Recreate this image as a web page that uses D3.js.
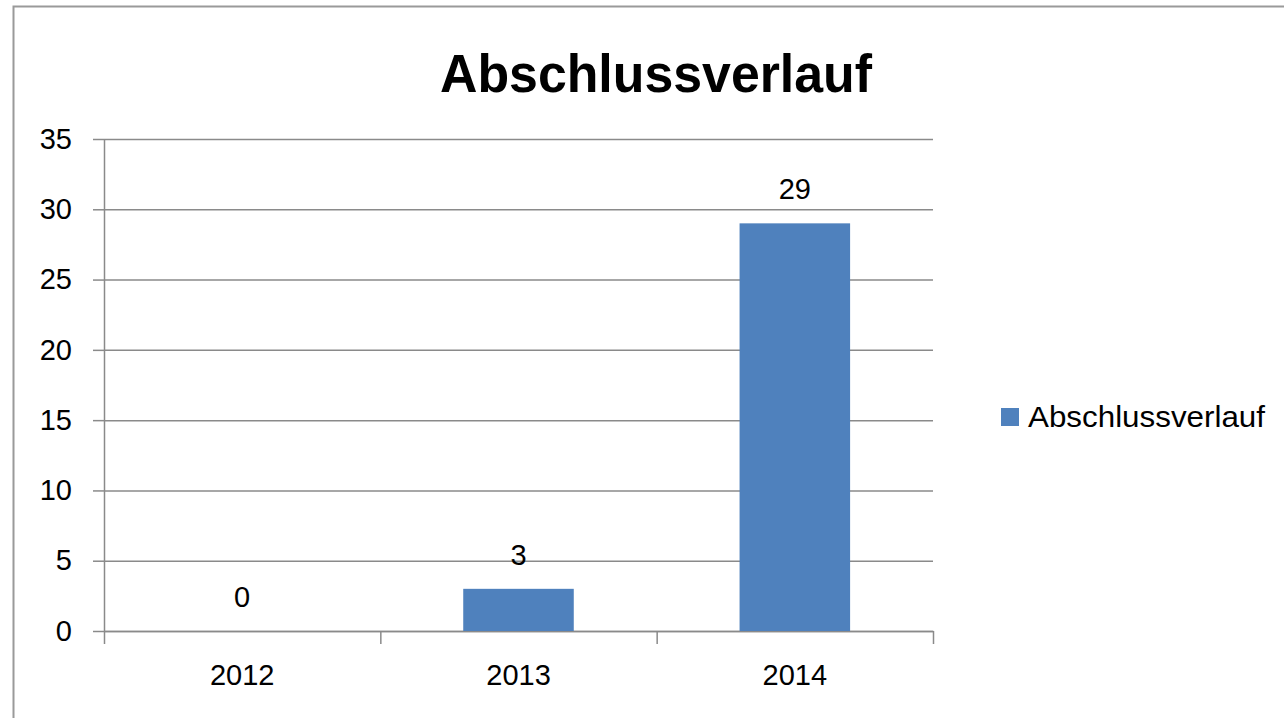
<!DOCTYPE html>
<html>
<head>
<meta charset="utf-8">
<script src="https://cdn.jsdelivr.net/npm/d3@7"></script>
<style>
  html, body { margin: 0; padding: 0; background: #fff; }
  svg { display: block; }
  text { font-family: "Liberation Sans", Arial, sans-serif; fill: #000; }
</style>
</head>
<body>
<svg id="chart" width="1284" height="718"></svg>
<script>
const years = ["2012", "2013", "2014"];
const values = [0, 3, 29];
const yTicks = [0, 5, 10, 15, 20, 25, 30, 35];
const seriesName = "Abschlussverlauf";
const chartTitle = "Abschlussverlauf";

const svg = d3.select("#chart");
const gridColor = "#8a8a8a";
const barColor = "#4f81bd";

const margin = { top: 139, right: 351, bottom: 87, left: 104 };
const width = 1284 - margin.left - margin.right;
const height = 718 - margin.top - margin.bottom;

// outer chart frame (runs past right and bottom edge)
svg.append("rect")
  .attr("x", 13.5).attr("y", 6.5)
  .attr("width", 1300).attr("height", 800)
  .attr("fill", "none")
  .attr("stroke", "#9a9a9a")
  .attr("stroke-width", 2);

svg.append("text")
  .attr("x", 656).attr("y", 92)
  .attr("text-anchor", "middle")
  .attr("font-size", 54)
  .attr("font-weight", "bold")
  .attr("textLength", 432)
  .attr("lengthAdjust", "spacingAndGlyphs")
  .text(chartTitle);

const g = svg.append("g")
  .attr("transform", `translate(${margin.left},${margin.top})`);

const x = d3.scaleBand().domain(years).range([0, width]).padding(0);
const y = d3.scaleLinear().domain([0, 35]).range([height, 0]);

// gridlines
g.append("g")
  .attr("class", "grid")
  .call(d3.axisLeft(y).tickValues(yTicks).tickSize(-width).tickFormat(""))
  .call((s) => s.select(".domain").remove())
  .call((s) => s.selectAll("line").attr("stroke", gridColor).attr("stroke-width", 1.5));

// y axis
g.append("g")
  .call(d3.axisLeft(y).tickValues(yTicks).tickSize(11).tickSizeOuter(0).tickPadding(21))
  .call((s) => s.select(".domain").attr("stroke", gridColor).attr("stroke-width", 1.5))
  .call((s) => s.selectAll("line").attr("stroke", gridColor).attr("stroke-width", 1.5))
  .call((s) => s.selectAll("text")
    .attr("font-size", 29)
    .attr("fill", "#000")
    .style("font-family", "'Liberation Sans', Arial, sans-serif"));

// x axis: tick marks at category boundaries
const boundaries = years.map((d) => x(d)).concat([width]);
const xb = d3.scaleLinear().domain([0, width]).range([0, width]);
g.append("g")
  .attr("transform", `translate(0,${height})`)
  .call(d3.axisBottom(xb).tickValues(boundaries).tickSize(13).tickSizeOuter(0).tickFormat(""))
  .call((s) => s.select(".domain").attr("stroke", gridColor).attr("stroke-width", 1.5))
  .call((s) => s.selectAll("line").attr("stroke", gridColor).attr("stroke-width", 1.5));

// x labels
g.append("g")
  .attr("transform", `translate(0,${height})`)
  .call(d3.axisBottom(x).tickSize(0).tickPadding(33))
  .call((s) => s.select(".domain").remove())
  .call((s) => s.selectAll("text")
    .attr("font-size", 29)
    .attr("fill", "#000")
    .style("font-family", "'Liberation Sans', Arial, sans-serif"));

const data = years.map((d, i) => ({ year: d, value: values[i] }));
const barW = x.bandwidth() * 0.4;

g.selectAll("rect.bar")
  .data(data)
  .join("rect")
  .attr("class", "bar")
  .attr("x", (d) => x(d.year) + (x.bandwidth() - barW) / 2)
  .attr("y", (d) => y(d.value))
  .attr("width", barW)
  .attr("height", (d) => height - y(d.value))
  .attr("fill", barColor);

g.selectAll("text.val")
  .data(data)
  .join("text")
  .attr("class", "val")
  .attr("x", (d) => x(d.year) + x.bandwidth() / 2)
  .attr("y", (d) => y(d.value) - 24)
  .attr("text-anchor", "middle")
  .attr("font-size", 29)
  .text((d) => d.value);

// legend
const legend = svg.append("g").attr("transform", "translate(1001,408)");
legend.append("rect")
  .attr("width", 18).attr("height", 18)
  .attr("fill", barColor);
legend.append("text")
  .attr("x", 27).attr("y", 19)
  .attr("font-size", 30)
  .attr("textLength", 237)
  .attr("lengthAdjust", "spacingAndGlyphs")
  .text(seriesName);
</script>
</body>
</html>
